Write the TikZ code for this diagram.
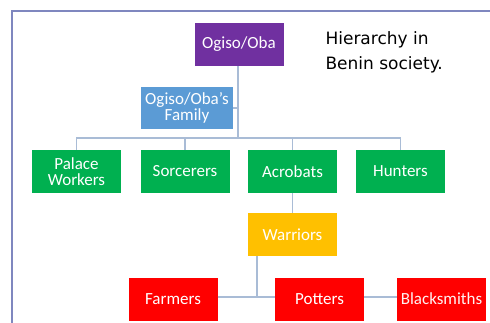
\documentclass[tikz,border=0pt]{standalone}
\usepackage{fontspec}
\setmainfont{Carlito}
\newfontfamily\headfont{DejaVu Sans}
\begin{document}
\begin{tikzpicture}[x=1pt,y=-1pt,
  box/.style={minimum width=89pt,minimum height=43pt,inner sep=1pt,align=center,
    text=white,font=\fontsize{17}{16}\selectfont},
  link/.style={draw=lnk,line width=1.2pt}]
\definecolor{frm}{HTML}{7F87BF}
\definecolor{lnk}{HTML}{A9BCD6}
\definecolor{cpur}{HTML}{7030A0}
\definecolor{cblu}{HTML}{5B9BD5}
\definecolor{cgrn}{HTML}{00B050}
\definecolor{cyel}{HTML}{FFC000}
\definecolor{cred}{HTML}{FF0000}
\useasboundingbox (0,0) rectangle (490,323);
\fill[white] (0,0) rectangle (490,323);
\draw[frm,line width=1.5pt] (12,323) -- (12,11) -- (490,11);
% nodes
\node[box,fill=cpur] (oba) at (239,44.5) {Ogiso/Oba};
\node[box,fill=cblu,minimum width=92pt,minimum height=42pt] (fam) at (187,108) {Ogiso/Oba's\\Family};
\node[box,fill=cgrn] (pal) at (76.5,171.5) {Palace\\Workers};
\node[box,fill=cgrn] (sor) at (185,171.5) {Sorcerers};
\node[box,fill=cgrn] (acr) at (292.5,171.5) {Acrobats};
\node[box,fill=cgrn] (hun) at (400.5,171.5) {Hunters};
\node[box,fill=cyel] (war) at (292.5,234.5) {Warriors};
\node[box,fill=cred] (far) at (173,299) {Farmers};
\node[box,fill=cred] (pot) at (319.5,299) {Potters};
\node[box,fill=cred,text=white!80!pink,inner sep=0pt] (bla) at (441.5,299) {Blacksmiths};
\coordinate (bus) at (238,138);
\coordinate (wb) at (257,297);
% links
\draw[link] (oba.south -| bus) -- (bus);
\draw[link] (fam.east) -- (fam.east -| bus);
\draw[link] (pal.north) |- (bus) -| (hun.north);
\draw[link] (sor.north) -- (sor.north |- bus);
\draw[link] (acr.north) -- (acr.north |- bus);
\draw[link] (acr.south) -- (war.north);
\draw[link] (war.south -| wb) -- (wb);
\draw[link] (far.east |- wb) -- (pot.west |- wb);
\draw[link] (pot.east |- wb) -- (bla.west |- wb);
% heading
\node[anchor=base west,font=\headfont\fontsize{17}{25}\selectfont,align=left] (head) at (322,70)
  {Hierarchy in\\Benin society.};
\end{tikzpicture}
\end{document}
